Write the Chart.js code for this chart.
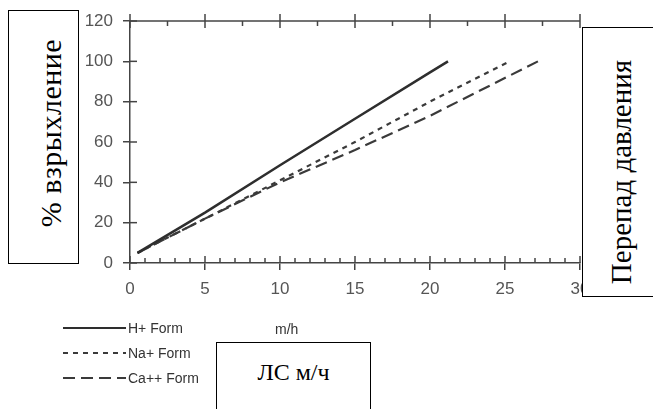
<!DOCTYPE html>
<html>
<head>
<meta charset="utf-8">
<script src="https://cdn.jsdelivr.net/npm/chart.js@4"></script>
<style>
  body { margin: 0; background: #fff; }
  #wrap { position: relative; width: 653px; height: 409px; overflow: hidden; }
  #chart { position: absolute; left: 0; top: 0; }
  .box { position: absolute; box-sizing: border-box; border: 1px solid #000; background: #fff;
         font-family: "Liberation Serif", "Times New Roman", serif; color: #000; }
  .txt { position: absolute; white-space: nowrap; line-height: 1; }
  .rot { transform: translate(-50%, -50%) rotate(-90deg); }
</style>
</head>
<body>
<div id="wrap">
  <canvas id="chart" width="653" height="409"></canvas>
  <div class="box" style="left:8px;top:10px;width:71px;height:254px;">
    <span class="txt rot" style="left:42px;top:122px;font-size:30px;letter-spacing:0.5px;">% взрыхление</span>
  </div>
  <div class="box" style="left:582px;top:27px;width:90px;height:270px;">
    <span class="txt rot" style="left:38px;top:144px;font-size:29px;">Перепад давления</span>
  </div>
  <div class="box" style="left:216px;top:342px;width:155px;height:90px;">
    <span class="txt" style="left:0;width:153px;text-align:center;top:17px;font-size:24px;">ЛС м/ч</span>
  </div>
</div>
<script>
// данные кривых (скорость м/ч -> % взрыхления)
const hX = [0.5, 5, 10, 15, 20, 21.2];
const hY = [5, 25, 48.5, 71.5, 94.5, 100];
const naX = [0.5, 5, 10, 15, 20, 25.3];
const naY = [5, 22, 41, 60, 80, 100];
const caX = [0.5, 5, 10, 15, 20, 27.2];
const caY = [5, 22, 40, 56, 73, 100];
const seriesNames = ["H+ Form", "Na+ Form", "Ca++ Form"];
const xTicks = [0, 5, 10, 15, 20, 25, 30];
const yTicks = [0, 20, 40, 60, 80, 100, 120];
const xTitle = "m/h";

const axisColor = "#444";
const tickFont = { family: "Liberation Sans, Arial, sans-serif", size: 17 };

function toPoints(xs, ys) {
  return xs.map((x, i) => ({ x: x, y: ys[i] }));
}

// доп. засечки осей, верхняя рамка, легенда
const axisExtras = {
  id: "axisExtras",
  afterDraw(chart) {
    const ctx = chart.ctx;
    const a = chart.chartArea;
    const x = chart.scales.x;
    const y = chart.scales.y;
    ctx.save();
    ctx.strokeStyle = axisColor;
    ctx.lineWidth = 1.5;
    function line(x1, y1, x2, y2) {
      ctx.beginPath();
      ctx.moveTo(x1, y1);
      ctx.lineTo(x2, y2);
      ctx.stroke();
    }
    // верхняя линия
    line(a.left, a.top, a.right, a.top);
    // засечки внутрь по Y
    yTicks.forEach(v => {
      const py = y.getPixelForValue(v);
      line(a.left, py, a.left + 7, py);
    });
    // нижняя ось: крупные и мелкие засечки
    for (let v = 0; v <= 30; v++) {
      const px = x.getPixelForValue(v);
      line(px, a.bottom, px, a.bottom - (v % 5 === 0 ? 7 : 5));
    }
    // верхняя ось
    for (let v = 0; v <= 30; v += 2.5) {
      const px = x.getPixelForValue(v);
      if (v % 5 === 0) line(px, a.top - 7, px, a.top + 7);
      else line(px, a.top, px, a.top + 5);
    }

    // легенда
    const ds = chart.data.datasets;
    const rows = [328, 353, 378];
    ctx.font = "14px Liberation Sans, Arial, sans-serif";
    ctx.textBaseline = "middle";
    ctx.fillStyle = "#333";
    ds.forEach((d, i) => {
      ctx.strokeStyle = d.borderColor;
      ctx.lineWidth = 2;
      ctx.setLineDash(d.borderDash || []);
      line(63, rows[i], 126, rows[i]);
      ctx.setLineDash([]);
      ctx.fillText(d.label, 128, rows[i] + 1);
    });
    ctx.fillText(xTitle, 275, 330);
    ctx.restore();
  }
};

new Chart(document.getElementById("chart").getContext("2d"), {
  type: "line",
  data: {
    datasets: [
      {
        label: seriesNames[0],
        data: toPoints(hX, hY),
        borderColor: "#2e2e2e",
        borderWidth: 2.5,
        pointRadius: 0,
        fill: false,
      },
      {
        label: seriesNames[1],
        data: toPoints(naX, naY),
        borderColor: "#3a3a3a",
        borderWidth: 2.2,
        borderDash: [5, 5],
        pointRadius: 0,
        fill: false,
      },
      {
        label: seriesNames[2],
        data: toPoints(caX, caY),
        borderColor: "#3a3a3a",
        borderWidth: 2.2,
        borderDash: [12, 6],
        pointRadius: 0,
        fill: false,
      },
    ],
  },
  options: {
    responsive: false,
    animation: false,
    layout: { padding: { left: 80, right: 73, top: 21, bottom: 106 } },
    plugins: {
      legend: { display: false },
      tooltip: { enabled: false },
    },
    scales: {
      x: {
        type: "linear",
        min: 0,
        max: 30,
        afterBuildTicks: s => { s.ticks = xTicks.map(v => ({ value: v })); },
        ticks: { font: tickFont, color: "#555", padding: 9, maxRotation: 0 },
        grid: { drawOnChartArea: false, tickLength: 7, color: axisColor, lineWidth: 1.5 },
        border: { color: axisColor, width: 1.5 },
        afterFit: s => { s.height = 40; },
      },
      y: {
        type: "linear",
        min: 0,
        max: 120,
        afterBuildTicks: s => { s.ticks = yTicks.map(v => ({ value: v })); },
        ticks: { font: tickFont, color: "#555", padding: 10 },
        grid: { drawOnChartArea: false, tickLength: 7, color: axisColor, lineWidth: 1.5 },
        border: { color: axisColor, width: 1.5 },
        afterFit: s => { s.width = 50; },
      },
    },
  },
  plugins: [axisExtras],
});
</script>
</body>
</html>
